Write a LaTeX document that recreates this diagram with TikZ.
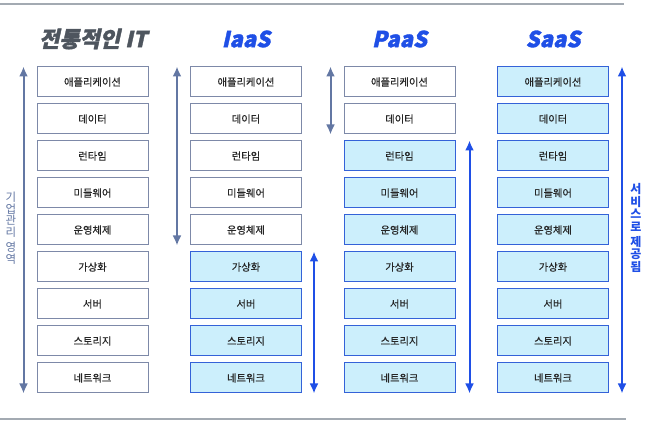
\documentclass[tikz,border=0pt]{standalone}
\usepackage{fontspec}
\usepackage{tikz}
\usetikzlibrary{arrows.meta}
\setmainfont{Noto Sans CJK KR}
\newfontfamily\titlefont{Noto Sans CJK KR}[FakeSlant=0.22, FakeBold=1.6]
\newfontfamily\boxfont{Noto Sans CJK KR}[FakeBold=0.5]

\definecolor{slate}{HTML}{6377A3}
\definecolor{edgegray}{HTML}{7D89A8}
\definecolor{svcblue}{HTML}{1F4FE6}
\definecolor{edgeblue}{HTML}{3462D8}
\definecolor{cyanfill}{HTML}{CCEFFC}
\definecolor{titlegray}{HTML}{4E555E}
\definecolor{rulegray}{HTML}{A3AAB2}

\tikzset{
  layer/.style={draw=edgegray, line width=1pt, fill=white, minimum width=111pt,
    minimum height=30pt, inner sep=0pt, text=black!85, font=\boxfont\fontsize{10.3}{12}\selectfont},
  given/.style={layer, draw=edgeblue, fill=cyanfill},
  heading/.style={font=\titlefont\bfseries\fontsize{22}{24}\selectfont},
  own/.style={draw=slate, line width=2pt, {Latex[length=10pt,width=9pt]}-{Latex[length=10pt,width=9pt]}},
  served/.style={own, draw=svcblue, fill=svcblue},
}

\begin{document}
\begin{tikzpicture}[x=1pt, y=-1pt]
            \useasboundingbox (0,0) rectangle (648,427);
            \draw[rulegray, line width=1.8pt] (0,4) -- (624,4);
            \draw[rulegray, line width=1.8pt] (0,419) -- (626,419);
            % titles
            \node[heading, text=titlegray] (ttrad) at (93,39) {전통적인 IT};
            \node[heading, text=svcblue] (tiaas) at (246,39) {IaaS};
            \node[heading, text=svcblue] (tpaas) at (399.5,39) {PaaS};
            \node[heading, text=svcblue] (tsaas) at (553,39) {SaaS};
            % traditional IT
            \node[layer] (t1) at (92.5,82) {애플리케이션};
            \node[layer] (t2) at (92.5,119) {데이터};
            \node[layer] (t3) at (92.5,156) {런타임};
            \node[layer] (t4) at (92.5,193) {미들웨어};
            \node[layer] (t5) at (92.5,230) {운영체제};
            \node[layer] (t6) at (92.5,267) {가상화};
            \node[layer] (t7) at (92.5,304) {서버};
            \node[layer] (t8) at (92.5,341) {스토리지};
            \node[layer] (t9) at (92.5,378) {네트워크};
            % IaaS
            \node[layer] (i1) at (246,82) {애플리케이션};
            \node[layer] (i2) at (246,119) {데이터};
            \node[layer] (i3) at (246,156) {런타임};
            \node[layer] (i4) at (246,193) {미들웨어};
            \node[layer] (i5) at (246,230) {운영체제};
            \node[given] (i6) at (246,267) {가상화};
            \node[given] (i7) at (246,304) {서버};
            \node[given] (i8) at (246,341) {스토리지};
            \node[given] (i9) at (246,378) {네트워크};
            % PaaS
            \node[layer] (p1) at (399.5,82) {애플리케이션};
            \node[layer] (p2) at (399.5,119) {데이터};
            \node[given] (p3) at (399.5,156) {런타임};
            \node[given] (p4) at (399.5,193) {미들웨어};
            \node[given] (p5) at (399.5,230) {운영체제};
            \node[given] (p6) at (399.5,267) {가상화};
            \node[given] (p7) at (399.5,304) {서버};
            \node[given] (p8) at (399.5,341) {스토리지};
            \node[given] (p9) at (399.5,378) {네트워크};
            % SaaS
            \node[given] (s1) at (553,82) {애플리케이션};
            \node[given] (s2) at (553,119) {데이터};
            \node[given] (s3) at (553,156) {런타임};
            \node[given] (s4) at (553,193) {미들웨어};
            \node[given] (s5) at (553,230) {운영체제};
            \node[given] (s6) at (553,267) {가상화};
            \node[given] (s7) at (553,304) {서버};
            \node[given] (s8) at (553,341) {스토리지};
            \node[given] (s9) at (553,378) {네트워크};
            % ranges
            \draw[own] ([xshift=-13pt]t1.north west) -- ([xshift=-13pt]t9.south west);
            \draw[own] ([xshift=-13pt]i1.north west) -- ([xshift=-13pt]i5.south west);
            \draw[served] ([xshift=12pt]i6.north east) -- ([xshift=12pt]i9.south east);
            \draw[own] ([xshift=-13pt]p1.north west) -- ([xshift=-13pt]p2.south west);
            \draw[served] ([xshift=14pt]p3.north east) -- ([xshift=14pt]p9.south east);
            \draw[served] ([xshift=13pt]s1.north east) -- ([xshift=13pt]s9.south east);
            % side labels
            \node[text=slate, align=center, font=\fontsize{11.5}{11.8}\selectfont] (lown) at (11,228)
                {기\\업\\관\\리\\[3pt]영\\역};
            \node[text=svcblue, align=center, font=\bfseries\fontsize{12}{12.4}\selectfont] (lsrv) at (636,228)
                {서\\비\\스\\로\\[3pt]제\\공\\됨};
        \end{tikzpicture}
\end{document}
